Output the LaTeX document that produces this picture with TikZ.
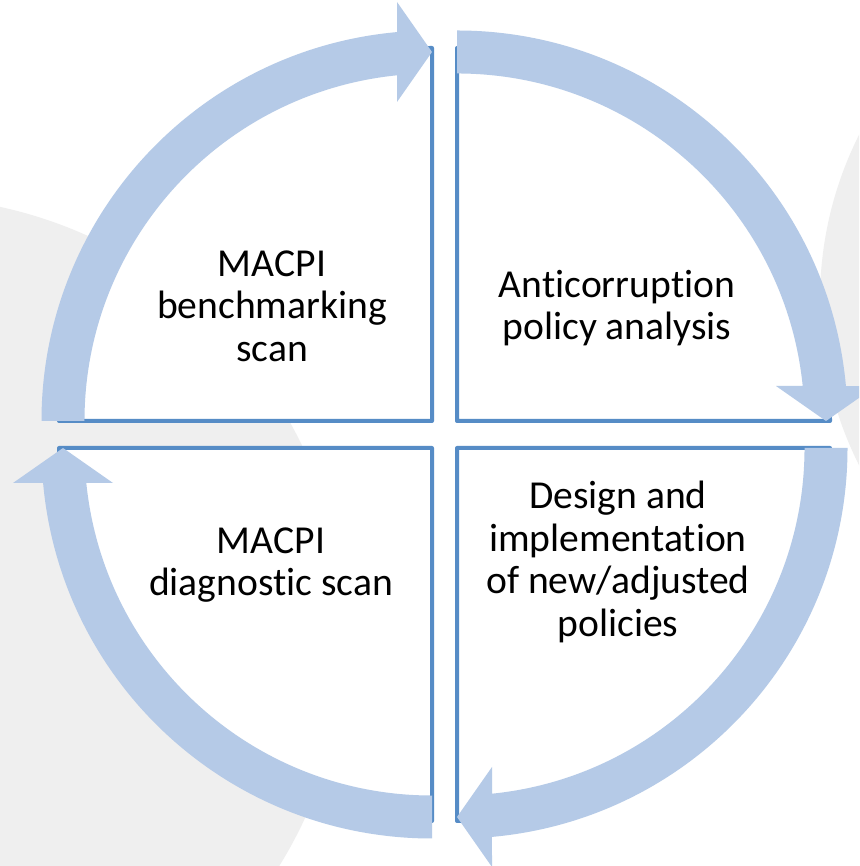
\documentclass[tikz,border=0pt]{standalone}
\usepackage{fontspec}
\setmainfont[Ligatures=NoCommon]{Carlito}
\definecolor{bandblue}{RGB}{181,202,231}
\definecolor{edgeblue}{RGB}{86,140,198}
\definecolor{backgray}{RGB}{239,239,239}
\begin{document}
\begin{tikzpicture}[line join=round,line cap=round,x=0.75pt,y=0.75pt]
			\tikzset{quad/.style={draw=edgeblue,line width=3pt,fill=white}}
			\tikzset{band/.style={fill=bandblue}}
			\tikzset{label style/.style={font=\fontsize{29.7}{31.9}\selectfont,align=center,text=black}}
			\def \rq{373}
			\def \rin{347.5}
			\def \rmid{369}
			\def \rout{390.5}
			\def \hin{319}
			\def \hout{419}
			\def \hl{35}
			\def\cyclearrow#1#2{
				\fill[band,shift={#1},rotate=#2] (180:\rin) -- (180:\rout)
					arc[start angle=180,end angle=95.14,radius=\rout]
					-- (-\hl,\hout) -- (0,\rmid) -- (-\hl,\hin) -- (-\hl,345.7)
					arc[start angle=95.78,end angle=180,radius=\rin] -- cycle;
			}
			\useasboundingbox (0,0) rectangle (859,866);
			\clip (0,0) rectangle (859,866);
			\fill[white] (0,0) rectangle (859,866);
			\fill[backgray] (-93,231) circle[radius=438];
			\fill[backgray] (1188,566) circle[radius=368];
			\draw[quad] (432,445) -- ++(180:\rq) arc[start angle=180,end angle=90,radius=\rq] -- cycle;
			\draw[quad] (457,445) -- ++(90:\rq) arc[start angle=90,end angle=0,radius=\rq] -- cycle;
			\draw[quad] (457,418) -- ++(0:\rq) arc[start angle=0,end angle=-90,radius=\rq] -- cycle;
			\draw[quad] (432,418) -- ++(-90:\rq) arc[start angle=-90,end angle=-180,radius=\rq] -- cycle;
			\cyclearrow{(432,445)}{0}
			\cyclearrow{(457,445)}{-90}
			\cyclearrow{(457,418)}{-180}
			\cyclearrow{(432,418)}{-270}
			\node[label style] (bench) at (272,560) {MACPI\\benchmarking\\scan};
			\node[label style] (anti) at (617,558) {Anticorruption\\policy analysis};
			\node[label style] (diag) at (271,301) {MACPI\\diagnostic scan};
			\node[label style] (design) at (618,304) {Design and\\implementation\\of new/adjusted\\policies};
		\end{tikzpicture}
\end{document}
